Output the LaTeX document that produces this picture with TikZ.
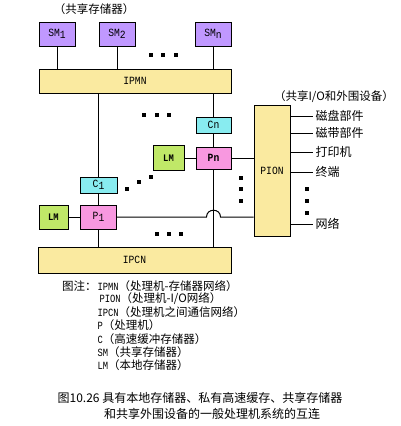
\documentclass[tikz,border=0pt]{standalone}
\usepackage{fontspec}
\usetikzlibrary{calc}
\newfontfamily\cjk{Noto Sans CJK SC}
\newfontfamily\lab[FakeStretch=0.88]{Liberation Mono}
\newfontfamily\labl[FakeStretch=0.8]{Liberation Mono}
\definecolor{smcol}{RGB}{192,152,255}
\definecolor{netcol}{RGB}{250,234,160}
\definecolor{ccol}{RGB}{136,236,240}
\definecolor{pcol}{RGB}{248,152,224}
\definecolor{lmcol}{RGB}{192,232,104}
\newcommand\zhf{\cjk\fontsize{11.5}{13}\selectfont}
\newcommand\laf{\labl\fontsize{11}{12}\selectfont}
\newcommand\subl[1]{\raisebox{-2.5pt}{#1}}
\begin{document}
\begin{tikzpicture}[x=1pt,y=-1pt,line width=1pt,
  box/.style={draw,line width=1pt,inner sep=0pt,font=\lab\fontsize{11}{12}\selectfont},
  zh/.style={font=\zhf,inner sep=0pt},
  zhc/.style={font=\cjk\fontsize{12}{14}\selectfont,inner sep=0pt},
  leg/.style={inner sep=0pt,anchor=west}]
\useasboundingbox (0,0) rectangle (400,426);
\fill[white] (0,0) rectangle (400,426);

% shared memories
\node[zh] (tsm) at (94,9) {（共享存储器）};
\node[box,fill=smcol,minimum width=36pt,minimum height=24pt] (SM1) at (57,34) {SM\subl{1}};
\node[box,fill=smcol,minimum width=36pt,minimum height=24pt] (SM2) at (117,34) {SM\subl{2}};
\node[box,fill=smcol,minimum width=36pt,minimum height=24pt] (SMn) at (213,34) {SM\subl{n}};

% networks
\node[box,fill=netcol,minimum width=192pt,minimum height=24pt] (IPMN) at (135,81) {IPMN};
\node[box,fill=netcol,minimum width=193pt,minimum height=26pt] (IPCN) at (134.5,260) {IPCN};
\node[box,fill=netcol,minimum width=36pt,minimum height=131pt] (PION) at (272,170.5) {PION};

% processors, caches, local memories
\node[box,fill=ccol,minimum width=35pt,minimum height=16pt] (Cn) at (213.5,125) {Cn};
\node[box,fill=pcol,minimum width=35pt,minimum height=22pt,font=\lab\bfseries\fontsize{11}{12}\selectfont] (Pn) at (213.5,158) {Pn};
\node[box,fill=lmcol,minimum width=31pt,minimum height=25pt,font=\lab\bfseries\fontsize{10}{11}\selectfont] (LMn) at (168.5,158) {LM};
\node[box,fill=ccol,minimum width=37pt,minimum height=16pt] (C1) at (98.5,185) {C\subl{1}};
\node[box,fill=pcol,minimum width=36pt,minimum height=24pt] (P1) at (98.5,217) {P\subl{1}};
\node[box,fill=lmcol,minimum width=29pt,minimum height=24pt,font=\lab\bfseries\fontsize{10}{11}\selectfont] (LM1) at (53.5,217) {LM};

% connectors
\draw (SM1.south) -- (SM1.south |- IPMN.north);
\draw (SM2.south) -- (SM2.south |- IPMN.north);
\draw (SMn.south) -- (SMn.south |- IPMN.north);
\draw (IPMN.south -| C1.north) -- (C1.north);
\draw (C1.south) -- (P1.north);
\draw (P1.south) -- (P1.south |- IPCN.north);
\draw (IPMN.south -| Cn.north) -- (Cn.north);
\draw (Cn.south) -- (Pn.north);
\draw (Pn.south) -- (Pn.south |- IPCN.north);
\draw (LM1.east) -- (P1.west);
\draw (LMn.east) -- (LMn.east -| Pn.west);
\draw (Pn.east) -- (Pn.east -| PION.west);
\coordinate (hopc) at (Pn.south |- P1.east);
\draw (P1.east) -- ($(hopc)+(-7,0)$) .. controls ($(hopc)+(-7,-9)$) and ($(hopc)+(7,-9)$) .. ($(hopc)+(7,0)$) -- (P1.east -| PION.west);

% peripherals
\node[zh] (tio) at (334,97) {（共享I/O和外围设备）};
\foreach \yy/\tt in {116/磁盘部件,133/磁带部件,152/打印机,172/终端,224/网络}{
  \coordinate (d\yy) at (313,\yy);
  \draw (PION.east |- d\yy) -- (d\yy);
  \node[zhc,anchor=west] (t\yy) at (315,\yy) {\tt};
}

% dots
\foreach \p in {(151,55),(163,55),(176,55),
                (144,115),(157,115),(169,115),
                (127,189),(139,182),(151,177),
                (157,234),(169,234),(181,234),
                (241,178),(241,189),(241,201),
                (307,189),(307,201),(307,213)}
  \fill \p ++(-1.6,-1.6) rectangle ++(3.2,3.2);

% legend
\node[zh,anchor=east] (lg0) at (97,286) {图注：};
\node[leg] (lg1) at (97,286) {\laf IPMN\zhf（处理机-存储器网络）};
\node[leg] (lg2) at (99,299) {\laf PION\zhf（处理机-I/O网络）};
\node[leg] (lg3) at (97,312) {\laf IPCN\zhf（处理机之间通信网络）};
\node[leg] (lg4) at (97,325) {\laf P\zhf（处理机）};
\node[leg] (lg5) at (97,339) {\laf C\zhf（高速缓冲存储器）};
\node[leg] (lg6) at (97,352) {\laf SM\zhf（共享存储器）};
\node[leg] (lg7) at (97,365) {\laf LM\zhf（本地存储器）};

% caption
\node[zhc] (cap1) at (200,398) {图10.26 具有本地存储器、私有高速缓存、共享存储器};
\node[zhc] (cap2) at (212,414) {和共享外围设备的一般处理机系统的互连};
\end{tikzpicture}
\end{document}
